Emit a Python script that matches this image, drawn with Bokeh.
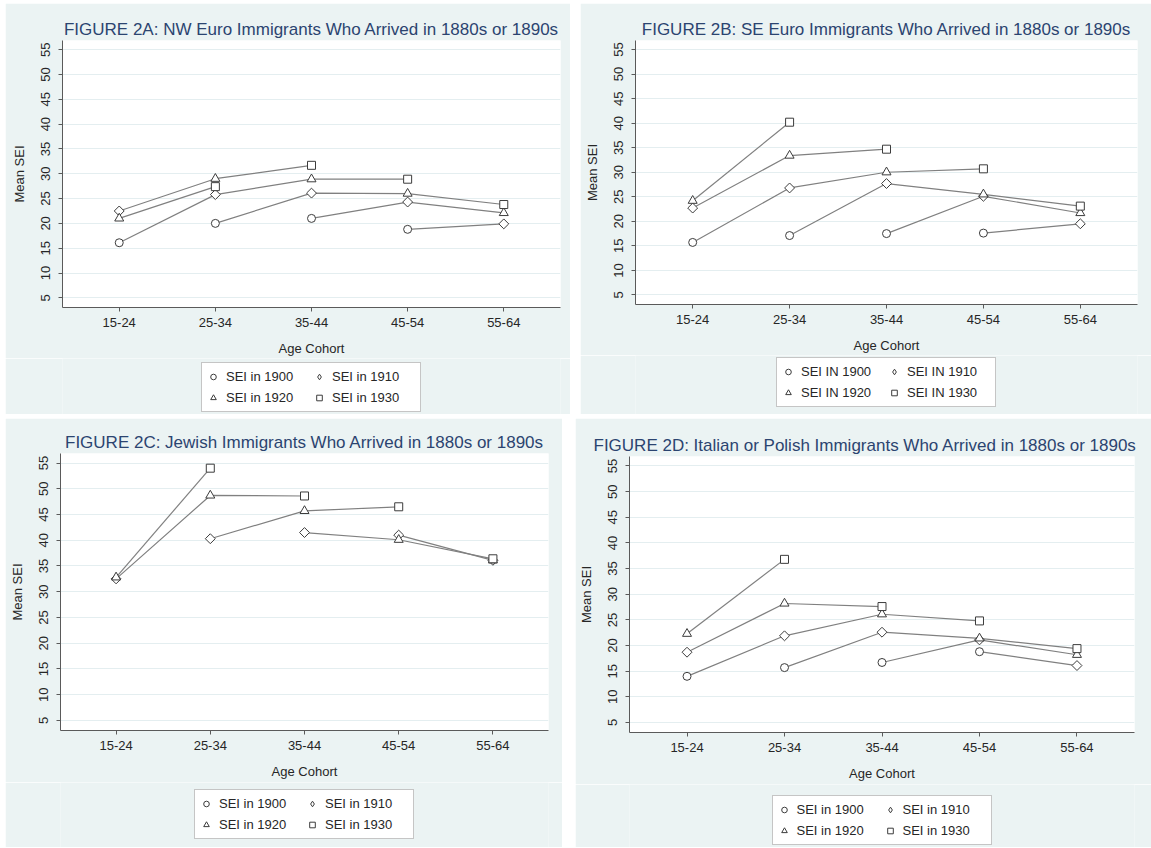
import math
from bokeh.plotting import figure
from bokeh.models import Range1d, FixedTicker, Legend, LegendItem, Spacer
from bokeh.layouts import row, column
from bokeh.embed import file_html
from bokeh.resources import INLINE

NaN = float("nan")

AGE_COHORTS = ["15-24", "25-34", "35-44", "45-54", "55-64"]
YEARS = [1900, 1910, 1920, 1930]
Y_TICKS = [5, 10, 15, 20, 25, 30, 35, 40, 45, 50, 55]

# Panel A: NW Euro
A_1900 = [16.1, 20.0, 21.0, 18.8, NaN]
A_1910 = [22.5, 25.8, 26.1, 24.3, 19.9]
A_1920 = [21.0, 29.0, 28.9, 26.0, 22.1]
A_1930 = [NaN, 27.4, 31.7, 28.9, 23.8]

# Panel B: SE Euro
B_1900 = [15.7, 17.1, 17.5, 17.6, NaN]
B_1910 = [22.7, 26.8, 27.7, 25.1, 19.5]
B_1920 = [24.2, 33.4, 30.0, 25.5, 21.7]
B_1930 = [NaN, 40.2, 34.7, 30.7, 23.1]

# Panel C: Jewish
C_1900 = [NaN, NaN, NaN, NaN, NaN]
C_1910 = [32.5, 40.3, 41.5, 41.0, 36.1]
C_1920 = [32.8, 48.7, 45.7, 40.1, 36.1]
C_1930 = [NaN, 54.0, 48.6, 46.5, 36.4]

# Panel D: Italian or Polish
D_1900 = [14.0, 15.7, 16.7, 18.8, NaN]
D_1910 = [18.7, 21.9, 22.6, 21.1, 16.1]
D_1920 = [22.3, 28.2, 26.1, 21.4, 18.2]
D_1930 = [NaN, 36.8, 27.6, 24.8, 19.4]

TITLES = [
    "FIGURE 2A: NW Euro Immigrants Who Arrived in 1880s or 1890s",
    "FIGURE 2B: SE Euro Immigrants Who Arrived in 1880s or 1890s",
    "FIGURE 2C: Jewish Immigrants Who Arrived in 1880s or 1890s",
    "FIGURE 2D: Italian or Polish Immigrants Who Arrived in 1880s or 1890s",
]
LABELS_LOWER = ["SEI in 1900", "SEI in 1910", "SEI in 1920", "SEI in 1930"]
LABELS_UPPER = ["SEI IN 1900", "SEI IN 1910", "SEI IN 1920", "SEI IN 1930"]

# circle, diamond (square turned 45 degrees), triangle, square
MARKERS = ["circle", "square", "triangle", "square"]
ANGLES = [0, math.pi / 4, 0, 0]
MSIZES = [8, 7, 9, 8]
KEY_MARKERS = ["circle", "diamond", "triangle", "square"]

BG = "#EBF3F3"
FONT = "Liberation Sans"
TXT = "#262626"
AX = "#5A5A5A"
MK_LINE = "#3C3C3C"
X = [i + 1 for i in range(len(AGE_COHORTS))]


def cohort_lines(series):
    n = len(AGE_COHORTS)
    xs, ys = [], []
    for k in range(-(len(series) - 1), n):
        px, py = [], []
        for j, vals in enumerate(series):
            i = k + j
            if 0 <= i < n and not math.isnan(vals[i]):
                px.append(X[i])
                py.append(vals[i])
        if len(px) >= 2:
            xs.append(px)
            ys.append(py)
    return xs, ys


def make_panel(title, series, labels, width, main_h, leg_h, mbl, mbr, mbt, mbb,
               leg_margin, title_left=None):
    p = figure(width=width, height=main_h, output_backend="svg", toolbar_location=None,
               x_range=Range1d(0.41, 5.59), y_range=Range1d(3.05, 56.85),
               min_border_left=mbl, min_border_right=mbr, min_border_top=mbt,
               min_border_bottom=mbb, title=title)
    p.background_fill_color = "white"
    p.border_fill_color = BG
    p.outline_line_color = None

    p.title.text_font = FONT
    p.title.text_font_size = "17px"
    p.title.text_font_style = "normal"
    p.title.text_color = "#2B4470"
    if title_left is None:
        p.title.align = "center"
    else:
        p.title.align = "left"
        p.title.offset = title_left
    p.title.standoff = 3

    p.xaxis.ticker = FixedTicker(ticks=X)
    p.xaxis.major_label_overrides = {x: lab for x, lab in zip(X, AGE_COHORTS)}
    p.xaxis.axis_label = "Age Cohort"
    p.yaxis.ticker = FixedTicker(ticks=Y_TICKS)
    p.yaxis.major_label_orientation = "vertical"
    p.yaxis.axis_label = "Mean SEI"
    for ax in (p.xaxis, p.yaxis):
        ax.axis_line_color = AX
        ax.major_tick_line_color = AX
        ax.major_tick_out = 4
        ax.major_tick_in = 0
        ax.minor_tick_line_color = None
        ax.major_label_text_font = FONT
        ax.major_label_text_font_size = "13px"
        ax.major_label_text_color = TXT
        ax.axis_label_text_font = FONT
        ax.axis_label_text_font_size = "13px"
        ax.axis_label_text_font_style = "normal"
        ax.axis_label_text_color = TXT
    p.xaxis.major_label_standoff = 6
    p.xaxis.axis_label_standoff = 11
    p.yaxis.major_label_standoff = 8
    p.yaxis.axis_label_standoff = 12
    p.xgrid.grid_line_color = None
    p.ygrid.grid_line_color = "#E4EEF0"
    p.ygrid.grid_line_width = 1

    xs, ys = cohort_lines(series)
    p.multi_line(xs, ys, line_color="#808080", line_width=1.2)

    for vals, mk, ang, ms in zip(series, MARKERS, ANGLES, MSIZES):
        p.scatter(X, vals, marker=mk, angle=ang, size=ms, fill_color="white",
                  line_color=MK_LINE, line_width=1)

    # key strip below the graph; its frame lines up with the graph's frame
    lf = figure(width=width, height=leg_h, output_backend="svg", toolbar_location=None,
                x_axis_type=None, y_axis_type=None,
                min_border_left=mbl, min_border_right=mbr,
                min_border_top=0, min_border_bottom=0,
                x_range=Range1d(-2, -1), y_range=Range1d(-2, -1))
    lf.background_fill_color = BG
    lf.border_fill_color = BG
    lf.outline_line_color = None
    rends = []
    for vals, mk, ms in zip(series, KEY_MARKERS, MSIZES):
        rends.append(lf.scatter(X, vals, marker=mk, size=ms, fill_color="white",
                                line_color=MK_LINE, line_width=1))
    # legend fills column by column: order so rows read 1900 1910 / 1920 1930
    order = [0, 2, 1, 3]
    items = [LegendItem(label=labels[i], renderers=[rends[i]]) for i in order]
    leg = Legend(items=items, ncols=2, location="bottom_center",
                 border_line_color="#8C8C8C", border_line_width=1,
                 background_fill_color="white", background_fill_alpha=1,
                 padding=4, spacing=2, margin=leg_margin,
                 glyph_width=14, glyph_height=19, label_height=19,
                 label_width=84, label_standoff=6,
                 label_text_font=FONT, label_text_font_size="13px",
                 label_text_color=TXT)
    lf.add_layout(leg, "center")
    return column(p, lf, spacing=0)


pA = make_panel(TITLES[0], [A_1900, A_1910, A_1920, A_1930], LABELS_LOWER,
                565, 355, 56, 57, 10, 37, 51, 2)
pB = make_panel(TITLES[1], [B_1900, B_1910, B_1920, B_1930], LABELS_UPPER,
                571, 352, 59, 55, 14, 37, 51, 7)
pC = make_panel(TITLES[2], [C_1900, C_1910, C_1920, C_1930], LABELS_LOWER,
                557, 364, 65, 55, 14, 35, 52, 8)
pD = make_panel(TITLES[3], [D_1900, D_1910, D_1920, D_1930], LABELS_LOWER,
                576, 366, 63, 54, 17, 38, 52, 2, title_left=-36)

row1 = row(Spacer(width=5), pA, Spacer(width=10), pB, spacing=0)
row2 = row(Spacer(width=5), pC, Spacer(width=13), pD, spacing=0)
layout = column(Spacer(height=3), row1, Spacer(height=4), row2, spacing=0)

open("out.html", "w").write(file_html(layout, INLINE))
